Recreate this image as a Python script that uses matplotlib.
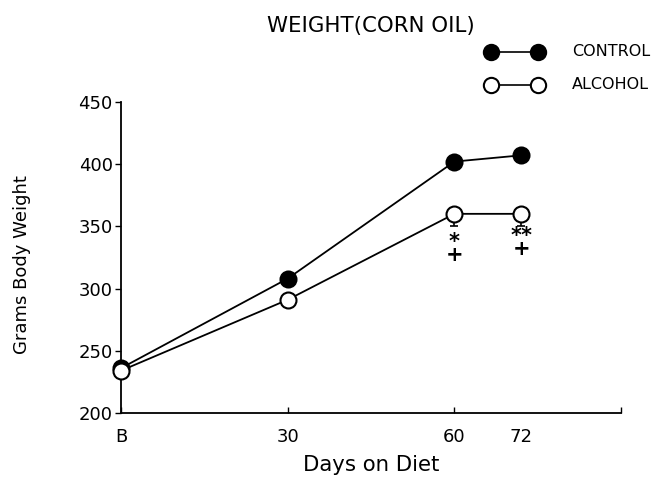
import matplotlib
matplotlib.use("Agg")
import matplotlib.pyplot as plt
from matplotlib.lines import Line2D

plt.rcParams['font.family'] = ['DejaVu Sans']

days = [0, 30, 60, 72]
control = [236, 308, 402, 407]
control_err = [3, 5, 6, 5]
alcohol = [234, 291, 360, 360]
alcohol_err = [3, 6, 10, 10]

# significance marks under the alcohol points: (day, y, symbols)
marks = [(60, 332, '*\n+'), (72, 337, '**\n+')]

fig = plt.figure(figsize=(6.66, 4.78), dpi=100)
ax = fig.add_axes([0.1817, 0.136, 0.751, 0.651])

for y, err, face in [(control, control_err, 'black'), (alcohol, alcohol_err, 'white')]:
    ax.errorbar(days, y, yerr=[err, [0] * len(err)], fmt='none', ecolor='black',
                elinewidth=1.2, capsize=3, capthick=1.2, zorder=2, clip_on=False)
    ax.plot(days, y, color='black', lw=1.3, marker='o', ms=11.5, mfc=face,
            mec='black', mew=1.5, zorder=3, clip_on=False)

for d, y, s in marks:
    ax.text(d, y, s, ha='center', va='center', fontsize=15, fontweight='bold',
            linespacing=0.55, multialignment='center')

ax.set_xlim(0, 90)
ax.set_ylim(200, 450)
ax.set_xticks([0, 30, 60, 90])
ax.set_xticklabels(['B', '30', '60', ''])
ax.set_xticks([72], minor=True)
ax.set_xticklabels(['72'], minor=True)
ax.tick_params(axis='x', which='major', direction='in', length=4, width=1, labelsize=13, pad=11)
ax.tick_params(axis='x', which='minor', length=0, labelsize=13, pad=11)
ax.set_yticks([200, 250, 300, 350, 400, 450])
ax.tick_params(axis='y', direction='out', length=4, width=1, labelsize=13, pad=2)
for side in ['top', 'right']:
    ax.spines[side].set_visible(False)
for side in ['left', 'bottom']:
    ax.spines[side].set_linewidth(1.3)

fig.text(0.557, 1 - 465 / 478, 'Days on Diet', ha='center', va='center', fontsize=15.3)
fig.text(22 / 666, 1 - 265 / 478, 'Grams Body Weight', ha='center', va='center',
         rotation=90, fontsize=13)
fig.text(0.557, 0.945, 'WEIGHT(CORN OIL)', ha='center', va='center', fontsize=15.3)

# legend drawn in figure coordinates
for yy, face, label in [(0.892, 'black', 'CONTROL'), (0.823, 'white', 'ALCOHOL')]:
    fig.add_artist(Line2D([0.737, 0.808], [yy, yy], transform=fig.transFigure,
                          color='black', lw=1.2, marker='o', ms=11, mfc=face,
                          mec='black', mew=1.5))
    fig.text(0.859, yy, label, ha='left', va='center', fontsize=11.5)

fig.savefig('out.png', dpi=100)
